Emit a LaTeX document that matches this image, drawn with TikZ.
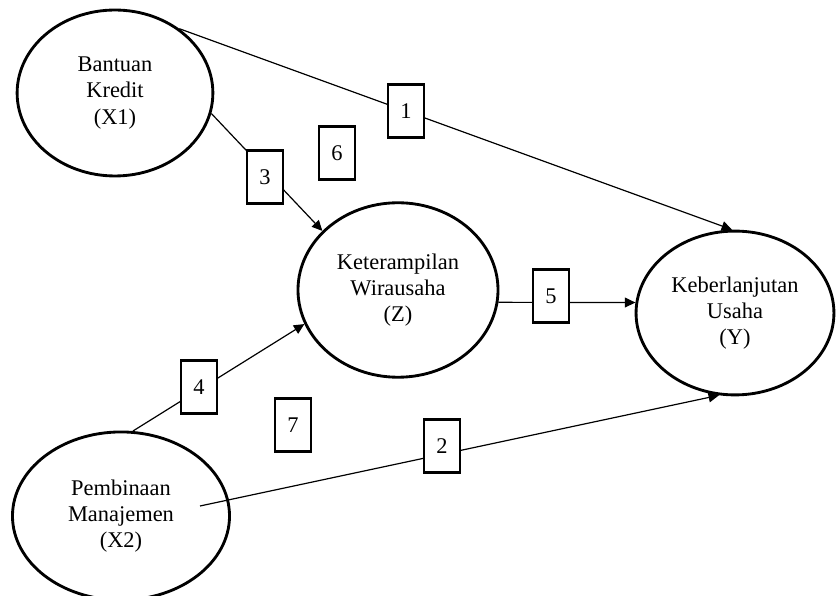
\documentclass[tikz,border=0pt]{standalone}
\usepackage{fontspec}
\setmainfont{Liberation Serif}
\usetikzlibrary{arrows.meta,shapes.geometric}

\begin{document}
\begin{tikzpicture}[x=0.0235cm,y=-0.0235cm,
    var/.style={ellipse,draw,line width=1.9pt,inner sep=0pt,align=center,
        font=\fontsize{15}{17.5}\selectfont},
    num/.style={rectangle,draw,fill=white,line width=1.7pt,
        minimum width=0.84cm,minimum height=1.24cm,font=\fontsize{15}{17}\selectfont},
    path/.style={line width=0.8pt,-{Triangle[length=7pt,width=6.5pt]}}]
        \useasboundingbox (0,0) rectangle (836,596);

        % Constructs
        \node[var,minimum width=4.6cm,minimum height=3.9cm] (x1) at (115,93) {Bantuan\\Kredit\\(X1)};
        \node[var,minimum width=4.7cm,minimum height=4.1cm] (z) at (398,290) {Keterampilan\\Wirausaha\\(Z)};
        \node[var,minimum width=4.65cm,minimum height=3.85cm] (y) at (735,313) {Keberlanjutan\\Usaha\\(Y)};
        \node[var,minimum width=5.1cm,minimum height=3.95cm] (x2) at (121,516) {Pembinaan\\Manajemen\\(X2)};
        \coordinate (x2in) at (200,506);

        % Paths
        \draw[path] (x1.45) -- (y.92);
        \draw[path] (x1.-12) -- (z.142);
        \draw[path] (x2.82) -- (z.200);
        \draw[path] (z.-7) -- (y.174);
        \draw[path] (x2in) -- (y.259);

        % Path numbers
        \node[num] (n1) at (406,111) {1};
        \node[num] (n2) at (442,446) {2};
        \node[num] (n3) at (265,177) {3};
        \node[num] (n4) at (199,387) {4};
        \node[num] (n5) at (551,296) {5};
        \node[num] (n6) at (337,153) {6};
        \node[num] (n7) at (293,425) {7};
    \end{tikzpicture}
\end{document}
